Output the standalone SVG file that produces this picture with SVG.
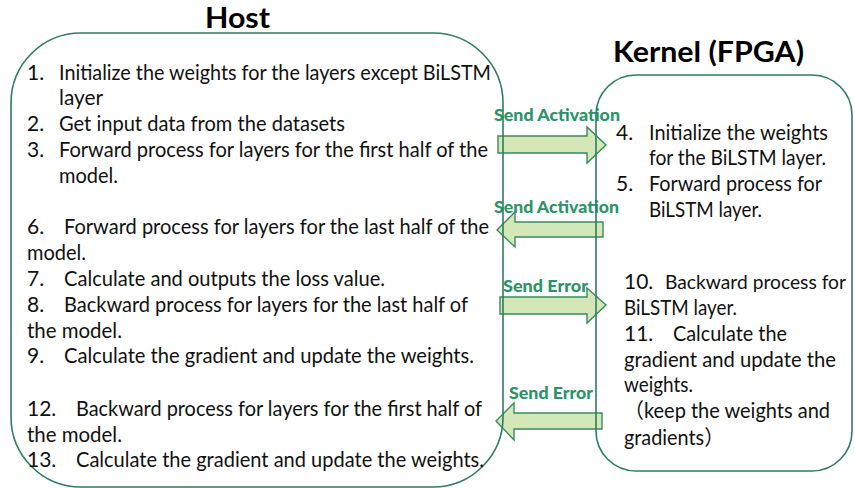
<svg xmlns="http://www.w3.org/2000/svg" width="855" height="488" viewBox="0 0 855 488">
  <style>
    .box { fill: none; stroke: #2e7d5e; stroke-width: 1.6; }
    .title { font-family: "Lato", "Liberation Sans", sans-serif; font-weight: bold; font-size: 29px; fill: #000; }
    .t { font-family: "Lato", "Liberation Sans", "Noto Sans CJK JP", sans-serif; font-size: 21px; fill: #111; }
    .arrow { fill: #d4e7b6; stroke: #3a8a63; stroke-width: 1.4; stroke-linejoin: miter; }
    .lbl { font-family: "Lato", "Liberation Sans", sans-serif; font-weight: 900; font-size: 17px; fill: #2a9466; }
  </style>

  <!-- data-transfer arrows between host and kernel -->
  <g id="connectors">
    <g id="send-activation-1">
      <polygon class="arrow" points="498,136 587,136 587,127 606,145 587,163 587,153 498,153"/>
      <text class="lbl" x="494" y="121" textLength="126" lengthAdjust="spacingAndGlyphs">Send Activation</text>
    </g>
    <g id="send-activation-2">
      <polygon class="arrow" points="603,222 515,222 515,212 497,230 515,247 515,237 603,237"/>
      <text class="lbl" x="494" y="213" textLength="125" lengthAdjust="spacingAndGlyphs">Send Activation</text>
    </g>
    <g id="send-error-1">
      <polygon class="arrow" points="500,297 587,297 587,288 606,305 587,323 587,314 500,314"/>
      <text class="lbl" x="503" y="292" textLength="85" lengthAdjust="spacingAndGlyphs">Send Error</text>
    </g>
    <g id="send-error-2">
      <polygon class="arrow" points="602,413 514,413 514,403 496,421 514,440 514,429 602,429"/>
      <text class="lbl" x="509" y="399" textLength="84" lengthAdjust="spacingAndGlyphs">Send Error</text>
    </g>
  </g>

  <!-- host side -->
  <g id="host">
    <text class="title" x="205" y="28" textLength="65" lengthAdjust="spacingAndGlyphs">Host</text>
    <rect class="box" x="11" y="33" width="492" height="454" rx="70" ry="70"/>
    <text class="t" x="27" y="80">1.</text>
    <text class="t" x="59" y="80" textLength="432" lengthAdjust="spacingAndGlyphs">Initialize the weights for the layers except BiLSTM</text>
    <text class="t" x="59" y="105" textLength="44" lengthAdjust="spacingAndGlyphs">layer</text>
    <text class="t" x="27" y="131">2.</text>
    <text class="t" x="59" y="131" textLength="286" lengthAdjust="spacingAndGlyphs">Get input data from the datasets</text>
    <text class="t" x="27" y="157">3.</text>
    <text class="t" x="59" y="157" textLength="429" lengthAdjust="spacingAndGlyphs">Forward process for layers for the first half of the</text>
    <text class="t" x="59" y="183" textLength="59" lengthAdjust="spacingAndGlyphs">model.</text>

    <text class="t" x="27" y="234">6.</text>
    <text class="t" x="64" y="234" textLength="425" lengthAdjust="spacingAndGlyphs">Forward process for layers for the last half of the</text>
    <text class="t" x="27" y="260" textLength="59" lengthAdjust="spacingAndGlyphs">model.</text>
    <text class="t" x="27" y="286">7.</text>
    <text class="t" x="64" y="286" textLength="321" lengthAdjust="spacingAndGlyphs">Calculate and outputs the loss value.</text>
    <text class="t" x="27" y="312">8.</text>
    <text class="t" x="64" y="312" textLength="404" lengthAdjust="spacingAndGlyphs">Backward process for layers for the last half of</text>
    <text class="t" x="27" y="338" textLength="95" lengthAdjust="spacingAndGlyphs">the model.</text>
    <text class="t" x="27" y="363">9.</text>
    <text class="t" x="64" y="363" textLength="410" lengthAdjust="spacingAndGlyphs">Calculate the gradient and update the weights.</text>

    <text class="t" x="27" y="416">12.</text>
    <text class="t" x="76" y="416" textLength="406" lengthAdjust="spacingAndGlyphs">Backward process for layers for the first half of</text>
    <text class="t" x="27" y="442" textLength="95" lengthAdjust="spacingAndGlyphs">the model.</text>
    <text class="t" x="27" y="467">13.</text>
    <text class="t" x="76" y="467" textLength="408" lengthAdjust="spacingAndGlyphs">Calculate the gradient and update the weights.</text>
  </g>

  <!-- FPGA kernel side -->
  <g id="kernel">
    <text class="title" x="613" y="62" textLength="191" lengthAdjust="spacingAndGlyphs">Kernel (FPGA)</text>
    <rect class="box" x="596" y="75" width="256" height="396" rx="40" ry="40"/>
    <text class="t" x="616" y="140">4.</text>
    <text class="t" x="649" y="140" textLength="179" lengthAdjust="spacingAndGlyphs">Initialize the weights</text>
    <text class="t" x="649" y="165" textLength="177" lengthAdjust="spacingAndGlyphs">for the BiLSTM layer.</text>
    <text class="t" x="616" y="191">5.</text>
    <text class="t" x="649" y="191" textLength="173" lengthAdjust="spacingAndGlyphs">Forward process for</text>
    <text class="t" x="649" y="217" textLength="113" lengthAdjust="spacingAndGlyphs">BiLSTM layer.</text>

    <text class="t" x="624" y="289">10.</text>
    <text class="t" x="665" y="289" style="font-size:19px" textLength="181" lengthAdjust="spacingAndGlyphs">Backward process for</text>
    <text class="t" x="624" y="315" textLength="113" lengthAdjust="spacingAndGlyphs">BiLSTM layer.</text>
    <text class="t" x="624" y="341">11.</text>
    <text class="t" x="673" y="341" textLength="114" lengthAdjust="spacingAndGlyphs">Calculate the</text>
    <text class="t" x="624" y="367" textLength="212" lengthAdjust="spacingAndGlyphs">gradient and update the</text>
    <text class="t" x="624" y="392" textLength="69" lengthAdjust="spacingAndGlyphs">weights.</text>
    <text class="t" x="624" y="418" textLength="206" lengthAdjust="spacingAndGlyphs">（keep the weights and</text>
    <text class="t" x="624" y="445" textLength="100" lengthAdjust="spacingAndGlyphs">gradients）</text>
  </g>
</svg>
